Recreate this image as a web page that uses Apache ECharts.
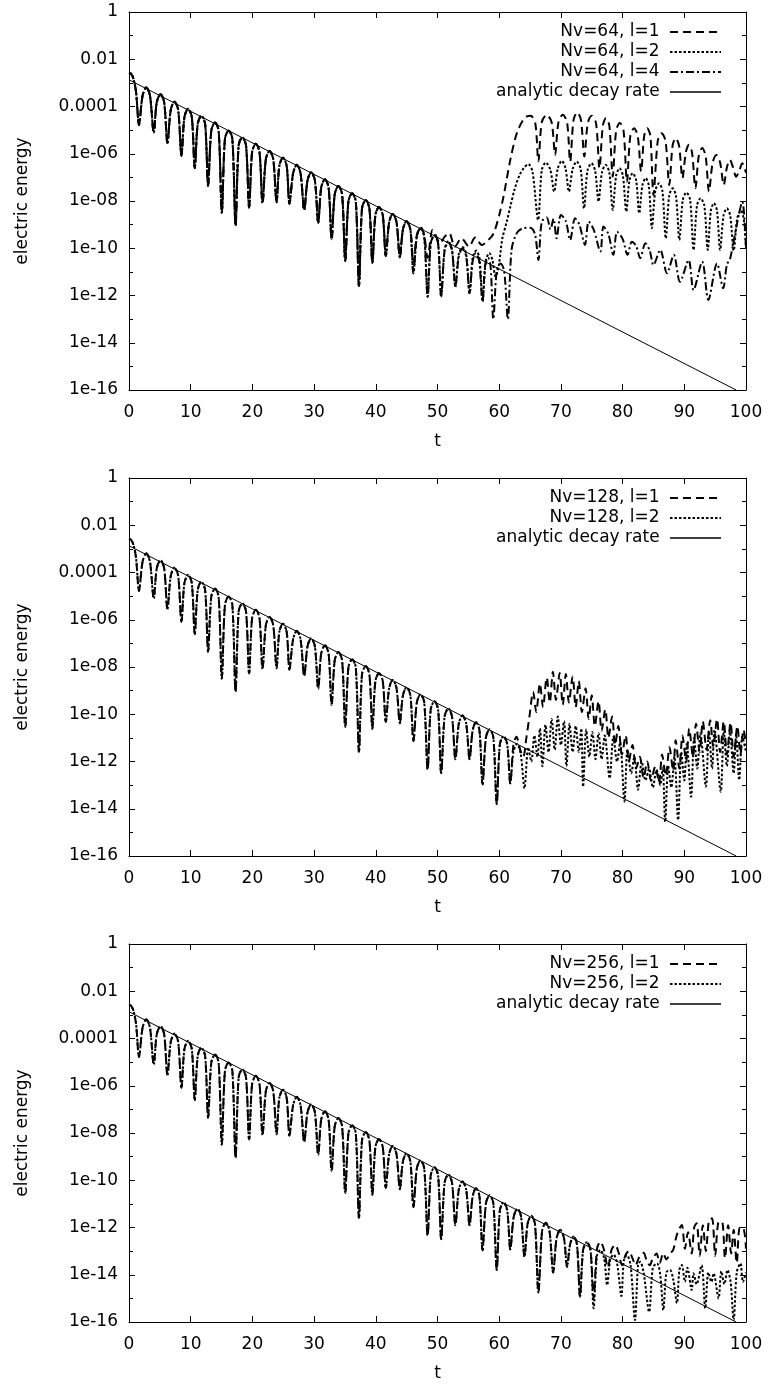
<!DOCTYPE html>
<html>
<head>
<meta charset="utf-8">
<script src="https://cdn.jsdelivr.net/npm/echarts@6/dist/echarts.min.js"></script>
<style>
  html, body { margin: 0; padding: 0; background: #fff; }
  #chart { width: 768px; height: 1384px; }
</style>
</head>
<body>
<div id="chart"></div>
<script>
// [t, log10(electric energy)]

// t = 0 .. 43.9, identical in every run
const early = [
  [0,-2.58],[0.35,-2.62],[0.75,-2.85],[1.15,-3.4],[1.62,-4.78],
  [2.2,-3.54],[2.8,-3.19],[3.4,-3.54],[4.01,-5.1],
  [4.5,-3.82],[5.1,-3.47],[5.7,-3.82],[6.23,-5.55],
  [6.77,-4.14],[7.37,-3.79],[7.97,-4.14],[8.5,-6.09],
  [8.98,-4.45],[9.58,-4.1],[10.18,-4.45],[10.66,-6.61],
  [11.14,-4.74],[11.74,-4.39],[12.34,-4.74],[12.82,-7.36],
  [13.33,-5.03],[13.93,-4.68],[14.53,-5.03],[15.04,-8.49],
  [15.55,-5.37],[16.15,-5.02],[16.75,-5.37],[17.27,-9.05],
  [17.77,-5.65],[18.37,-5.3],[18.97,-5.65],[19.47,-8.28],
  [19.95,-5.93],[20.55,-5.58],[21.15,-5.93],[21.64,-8.09],
  [22.18,-6.23],[22.78,-5.88],[23.38,-6.23],[23.92,-8.05],
  [24.36,-6.52],[24.96,-6.17],[25.56,-6.52],[26.0,-8.12],
  [26.6,-6.82],[27.2,-6.47],[27.8,-6.82],[28.4,-8.38],
  [28.93,-7.13],[29.53,-6.78],[30.13,-7.13],[30.67,-8.92],
  [31.15,-7.43],[31.75,-7.08],[32.35,-7.43],[32.84,-9.62],
  [33.34,-7.72],[33.94,-7.37],[34.54,-7.72],[35.05,-10.54],
  [35.56,-8.02],[36.16,-7.67],[36.76,-8.02],[37.27,-11.6],
  [37.76,-8.31],[38.36,-7.96],[38.96,-8.31],[39.45,-10.61],
  [39.93,-8.6],[40.53,-8.25],[41.13,-8.6],[41.62,-10.33],
  [42.16,-8.9],[42.76,-8.55],[43.36,-8.9],[43.9,-10.38]
];

// t = 44.4 .. 61.8, shared by the Nv=128 and Nv=256 runs
const mid = [
  [44.4,-9.2],[45.0,-8.85],[45.6,-9.2],[46.1,-11.14],
  [46.65,-9.5],[47.25,-9.15],[47.85,-9.5],[48.4,-12.34],
  [48.9,-9.8],[49.5,-9.45],[50.1,-9.8],[50.6,-12.5],
  [51.15,-10.1],[51.75,-9.75],[52.35,-10.1],[52.9,-11.9],
  [53.45,-10.4],[54.05,-10.05],[54.65,-10.4],[55.2,-11.9],
  [55.7,-10.68],[56.25,-10.33],[56.8,-10.68],[57.3,-12.97],
  [57.85,-10.98],[58.45,-10.63],[59.05,-10.98],[59.6,-13.8],
  [60.1,-11.28],[60.7,-10.93],[61.3,-11.28],[61.8,-12.93]
];

const nv64l1 = [
  [44.4,-9.2],[45.0,-8.85],[45.6,-9.2],[46.1,-10.6],
  [46.65,-9.45],[47.25,-9.1],[47.85,-9.45],[48.4,-10.4],
  [49.2,-9.22],[49.8,-9.5],[50.4,-9.79],[51.2,-9.5],[51.9,-9.36],[52.8,-9.93],
  [53.9,-9.58],[55.1,-9.93],[56.1,-9.55],[57.2,-9.86],[58.2,-9.65],[58.8,-9.5],
  [59.3,-9.23],[60.0,-8.6],[60.7,-7.81],[61.8,-6.26],[62.85,-5.13],[63.9,-4.56],
  [64.5,-4.42],[65.1,-4.39],[65.85,-4.71],[66.35,-6.33],
  [66.9,-4.67],[67.7,-4.35],[68.5,-4.67],[69.06,-6.05],
  [69.6,-4.67],[70.3,-4.35],[71.0,-4.67],[71.5,-6.33],
  [72.05,-4.57],[72.65,-4.25],[73.25,-4.57],[73.8,-6.12],
  [74.35,-4.71],[75.0,-4.39],[75.7,-4.71],[76.25,-6.61],
  [76.8,-4.81],[77.3,-4.49],[77.85,-4.81],[78.4,-6.97],
  [78.95,-5.02],[79.55,-4.7],[80.15,-5.02],[80.7,-7.18],
  [81.25,-5.24],[81.85,-4.92],[82.45,-5.24],[83.0,-6.75],
  [83.5,-5.24],[84.0,-4.92],[84.5,-5.24],[85.0,-7.74],
  [85.7,-5.45],[86.3,-5.13],[86.95,-5.45],[87.56,-7.32],
  [88.1,-5.66],[88.6,-5.34],[89.15,-5.66],[89.7,-7.03],
  [90.25,-5.94],[90.75,-5.62],[91.25,-5.94],[91.8,-7.46],
  [92.35,-6.08],[92.9,-5.76],[93.45,-6.08],[94.0,-7.6],
  [94.6,-6.37],[95.2,-6.05],[95.8,-6.37],[96.4,-7.32],
  [96.9,-6.58],[97.4,-6.26],[97.9,-6.58],[98.4,-6.97],
  [98.9,-6.72],[99.4,-6.4],[100,-6.8]
];

const nv64l2 = [
  [44.4,-9.2],[45.0,-8.85],[45.6,-9.2],[46.1,-11.06],
  [46.65,-9.5],[47.25,-9.15],[47.85,-9.5],[48.4,-12.05],
  [48.9,-9.8],[49.5,-9.45],[50.1,-9.8],[50.6,-12.05],
  [51.15,-10.05],[51.75,-9.7],[52.35,-10.05],[52.9,-11.63],
  [53.45,-10.25],[54.05,-9.95],[54.65,-10.25],[55.2,-11.91],
  [55.7,-10.4],[56.25,-10.1],[56.8,-10.4],[57.3,-12.26],
  [57.85,-10.5],[58.4,-10.2],[58.9,-10.5],[59.4,-11.2],
  [59.9,-10.78],[60.5,-9.6],[61.2,-8.9],[61.8,-8.24],[62.5,-7.5],[63.3,-6.9],
  [64.0,-6.6],[64.73,-6.44],[65.4,-6.76],[66.3,-8.8],
  [66.9,-6.69],[67.55,-6.37],[68.3,-6.69],[68.9,-7.6],
  [69.5,-6.62],[70.15,-6.3],[70.75,-6.62],[71.3,-7.6],
  [71.9,-6.65],[72.55,-6.33],[73.2,-6.65],[73.75,-8.31],
  [74.3,-6.72],[74.95,-6.4],[75.55,-6.72],[76.1,-8.02],
  [76.65,-6.79],[77.25,-6.47],[77.85,-6.79],[78.4,-8.38],
  [78.95,-6.93],[79.5,-6.61],[80.05,-6.93],[80.6,-8.45],
  [81.1,-7.14],[81.65,-6.82],[82.2,-7.14],[82.7,-8.52],
  [83.2,-7.35],[83.75,-7.03],[84.25,-7.35],[84.75,-9.15],
  [85.3,-7.57],[85.9,-7.25],[86.45,-7.57],[87.0,-9.58],
  [87.55,-7.78],[88.1,-7.46],[88.65,-7.78],[89.2,-9.65],
  [89.75,-7.96],[90.35,-7.64],[90.95,-7.96],[91.5,-10.07],
  [92.05,-8.2],[92.65,-7.88],[93.25,-8.2],[93.8,-10.07],
  [94.3,-8.41],[94.8,-8.09],[95.3,-8.41],[95.8,-10.07],
  [96.35,-8.63],[96.9,-8.31],[97.45,-8.63],[98.0,-10.1],
  [98.6,-8.7],[99.2,-8.4],[99.7,-8.9],[100,-10.0]
];

const nv64l4 = [
  [44.4,-9.2],[45.0,-8.85],[45.6,-9.2],[46.1,-11.06],
  [46.65,-9.5],[47.25,-9.15],[47.85,-9.5],[48.4,-12.05],
  [48.9,-9.8],[49.5,-9.45],[50.1,-9.8],[50.6,-12.05],
  [51.15,-10.1],[51.75,-9.75],[52.35,-10.1],[52.9,-11.63],
  [53.45,-10.35],[54.05,-10.0],[54.65,-10.35],[55.2,-11.91],
  [55.7,-10.55],[56.2,-10.2],[56.75,-10.55],[57.3,-12.26],
  [57.7,-10.75],[58.2,-10.4],[58.6,-10.75],[59.05,-13.0],
  [59.6,-10.95],[60.2,-10.65],[60.8,-10.95],[61.4,-13.0],
  [62.0,-10.07],[62.85,-9.36],[63.9,-9.15],[65.0,-9.13],[65.8,-9.4],[66.35,-10.5],
  [66.9,-8.87],[67.7,-8.7],[68.3,-9.2],[68.8,-8.75],[69.3,-9.58],[70.0,-8.59],
  [70.8,-8.85],[71.5,-9.65],[72.3,-8.73],[73.0,-9.0],[73.9,-9.86],[74.5,-8.87],
  [75.3,-9.2],[76.4,-10.14],[76.9,-9.08],[77.7,-9.4],[78.5,-10.28],[79.1,-9.3],
  [80.0,-9.6],[80.8,-10.28],[81.5,-9.72],[82.2,-9.9],[82.85,-10.42],[83.7,-9.79],
  [84.4,-10.1],[85.0,-10.71],[86.1,-10.07],[87.2,-11.06],[88.3,-10.28],[89.3,-11.42],
  [90.7,-10.5],[91.5,-11.77],[92.9,-10.57],[93.9,-12.19],[95.3,-10.64],[96.3,-11.69],
  [96.9,-10.7],[97.45,-10.42],[98.5,-9.01],[99.4,-8.03],[100,-10.0]
];

const nv128l1 = [
  [62.3,-11.3],[62.8,-10.95],[63.4,-11.5],[63.9,-11.8],[64.4,-11.0],[64.9,-10.1],
  [65.5,-9.05],[66.0,-9.9],[66.6,-8.7],[67.1,-9.7],[67.7,-8.45],[68.2,-9.5],
  [68.7,-8.2],[69.2,-9.4],[69.8,-8.25],[70.3,-9.6],[70.8,-8.3],[71.3,-9.5],
  [71.9,-8.4],[72.4,-9.7],[72.9,-8.6],[73.4,-9.9],[74.0,-8.9],[74.5,-10.2],
  [75.0,-9.2],[75.5,-10.5],[76.1,-9.45],[76.6,-10.7],[77.2,-9.8],[77.7,-11.0],
  [78.3,-10.1],[78.8,-11.3],[79.3,-10.5],[79.9,-11.7],[80.5,-10.9],[81.0,-12.0],
  [81.6,-11.3],[82.2,-12.3],[82.8,-11.8],[83.4,-12.7],[84.0,-12.0],[84.6,-12.8],
  [85.3,-12.2],[85.9,-12.9],[86.4,-11.7],[87.0,-12.6],[87.6,-11.4],[88.2,-12.4],
  [88.6,-11.1],[89.2,-12.3],[89.7,-10.9],[90.3,-12.0],[90.8,-10.6],[91.4,-11.8],
  [91.9,-10.4],[92.5,-11.6],[93.0,-10.3],[93.6,-11.5],[94.2,-10.25],[94.7,-11.4],
  [95.3,-10.2],[95.8,-11.6],[96.4,-10.3],[96.9,-11.7],[97.5,-10.35],[98.0,-11.8],
  [98.6,-10.5],[99.1,-11.7],[99.6,-10.65],[100,-11.3]
];

const nv128l2 = [
  [62.3,-11.6],[62.9,-11.25],[63.5,-11.7],[64.1,-13.14],[64.7,-11.4],[65.2,-12.0],
  [65.7,-10.9],[66.2,-11.8],[66.6,-10.6],[67.0,-12.2],[67.5,-10.45],[68.0,-11.6],
  [68.5,-10.2],[69.0,-11.5],[69.5,-10.1],[70.0,-11.3],[70.5,-10.3],[70.9,-12.2],
  [71.4,-10.4],[71.9,-11.6],[72.4,-10.5],[72.9,-11.6],[73.3,-10.6],[73.6,-13.07],
  [74.1,-10.65],[74.6,-11.8],[75.1,-10.75],[75.6,-11.9],[76.1,-10.8],[76.6,-11.9],
  [77.1,-10.9],[77.9,-12.71],[78.5,-10.95],[79.1,-12.0],[79.6,-11.2],[80.3,-13.7],
  [80.8,-11.5],[81.4,-12.5],[81.9,-11.8],[82.5,-13.2],[83.1,-12.0],[83.7,-12.8],
  [84.3,-12.3],[84.9,-13.1],[85.5,-12.35],[86.1,-13.0],[86.5,-12.25],[86.9,-14.55],
  [87.4,-12.2],[87.9,-13.1],[88.4,-11.8],[89.0,-14.48],[89.5,-11.6],[90.0,-12.8],
  [90.4,-11.25],[91.1,-13.49],[91.6,-11.0],[92.1,-12.3],[92.6,-10.8],[93.5,-13.07],
  [94.0,-10.7],[94.5,-12.3],[94.9,-10.66],[95.9,-13.28],[96.4,-10.7],[96.9,-12.2],
  [97.4,-10.75],[98.0,-12.5],[98.4,-10.85],[98.9,-12.78],[99.4,-10.95],[100,-11.6]
];

const nv256l1 = [
  [62.35,-11.55],[62.95,-11.2],[63.55,-11.55],[64.1,-13.24],
  [64.6,-11.85],[65.2,-11.5],[65.8,-11.85],[66.35,-14.75],
  [66.95,-12.15],[67.55,-11.8],[68.15,-12.15],[68.75,-13.9],
  [69.3,-12.45],[69.9,-12.1],[70.5,-12.45],[71.0,-13.66],
  [71.5,-12.7],[72.05,-12.38],[72.6,-12.7],[73.1,-14.93],
  [73.6,-12.95],[74.2,-12.62],[74.8,-12.95],[75.3,-15.0],
  [75.85,-12.9],[76.4,-12.6],[77.0,-12.95],[77.6,-13.7],[78.2,-12.95],[78.8,-12.74],
  [79.4,-13.1],[79.9,-13.6],[80.5,-13.15],[81.0,-13.0],[81.6,-13.3],[82.1,-13.6],
  [82.7,-13.25],[83.4,-13.07],[83.9,-13.4],[84.4,-13.6],[84.9,-13.3],[85.5,-13.1],
  [86.0,-13.5],[86.6,-13.09],[87.1,-13.35],[87.7,-13.1],[88.2,-12.95],[88.7,-12.4],
  [89.1,-12.1],[89.6,-11.89],[90.1,-12.9],[90.6,-12.2],[91.2,-13.1],[91.6,-12.0],
  [92.0,-11.82],[92.5,-13.2],[93.0,-11.9],[93.5,-13.0],[94.0,-11.7],[94.5,-11.61],
  [95.0,-13.2],[95.5,-11.8],[96.1,-11.75],[96.6,-13.3],[97.1,-11.9],[97.6,-13.1],
  [98.0,-12.1],[98.5,-13.5],[99.0,-12.0],[99.6,-12.03],[100,-12.9]
];

const nv256l2 = [
  [62.35,-11.55],[62.95,-11.2],[63.55,-11.55],[64.1,-13.24],
  [64.6,-11.85],[65.2,-11.5],[65.8,-11.85],[66.35,-14.75],
  [66.95,-12.15],[67.55,-11.8],[68.15,-12.15],[68.75,-13.9],
  [69.3,-12.45],[69.9,-12.1],[70.5,-12.45],[71.0,-13.66],
  [71.5,-12.7],[72.05,-12.38],[72.6,-12.7],[73.1,-14.93],
  [73.6,-12.95],[74.2,-12.62],[74.8,-12.95],[75.3,-15.42],
  [75.85,-13.2],[76.4,-12.95],[77.0,-13.3],[77.5,-14.44],[78.0,-13.35],[78.55,-13.15],
  [79.1,-13.5],[79.8,-14.9],[80.2,-13.4],[80.7,-13.17],[81.3,-13.6],[82.0,-15.92],
  [82.5,-13.6],[82.85,-13.45],[83.4,-13.9],[84.3,-15.57],[84.9,-13.7],[85.6,-13.52],
  [86.1,-14.0],[86.6,-15.5],[87.1,-13.9],[87.7,-13.8],[88.2,-14.2],[88.8,-15.2],
  [89.2,-13.8],[89.6,-13.59],[90.1,-14.3],[90.5,-13.7],[91.2,-14.65],[91.5,-13.94],
  [92.0,-14.4],[92.8,-13.6],[93.4,-15.42],[93.9,-13.9],[94.4,-14.3],[94.75,-13.94],
  [95.55,-15.0],[96.0,-13.85],[96.5,-14.4],[97.0,-13.8],[97.5,-14.3],[98.0,-15.92],
  [98.5,-13.9],[99.1,-13.52],[99.5,-14.3],[100,-13.9]
];

// analytic decay rate, straight line on the log axis
const decay = [[0,-2.87],[98.4,-16]];

const yTickLabels = ['1e-16','1e-14','1e-12','1e-10','1e-08','1e-06','0.0001','0.01','1'];

const FONT = 'DejaVu Sans';
const FS = 17;

const styleOf = {
  l1: { width: 2, type: [8, 5] },
  l2: { width: 2, type: [2.5, 2] },
  l4: { width: 2, type: [8, 3, 2, 3] },
  exact: { width: 1, type: 'solid' }
};

const panels = [
  { top: 12, series: [
    ['Nv=64, l=1', early.concat(nv64l1), 'l1'],
    ['Nv=64, l=2', early.concat(nv64l2), 'l2'],
    ['Nv=64, l=4', early.concat(nv64l4), 'l4'],
    ['analytic decay rate', decay, 'exact']
  ]},
  { top: 478, series: [
    ['Nv=128, l=1', early.concat(mid, nv128l1), 'l1'],
    ['Nv=128, l=2', early.concat(mid, nv128l2), 'l2'],
    ['analytic decay rate', decay, 'exact']
  ]},
  { top: 944, series: [
    ['Nv=256, l=1', early.concat(mid, nv256l1), 'l1'],
    ['Nv=256, l=2', early.concat(mid, nv256l2), 'l2'],
    ['analytic decay rate', decay, 'exact']
  ]}
];

const textStyle = { fontFamily: FONT, fontSize: FS, color: '#000' };
const black = { color: '#000', width: 1 };

let grid = [], xAxis = [], yAxis = [], legend = [], series = [];

panels.forEach((p, i) => {
  grid.push({ left: 129, width: 617, top: p.top, height: 378, outerBoundsMode: 'none', containLabel: false });

  // bottom and top x axes
  xAxis.push({
    gridIndex: i, type: 'value', min: 0, max: 100, interval: 10, position: 'bottom',
    axisLine: { onZero: false, lineStyle: black },
    axisTick: { inside: true, length: 6, lineStyle: black },
    axisLabel: Object.assign({ margin: 14 }, textStyle),
    splitLine: { show: false },
    name: 't', nameLocation: 'middle', nameGap: 43, nameTextStyle: textStyle
  });
  xAxis.push({
    gridIndex: i, type: 'value', min: 0, max: 100, interval: 10, position: 'top',
    axisLine: { onZero: false, lineStyle: black },
    axisTick: { inside: true, length: 6, lineStyle: black },
    axisLabel: { show: false },
    splitLine: { show: false }
  });

  // log axis the data hangs on
  yAxis.push({ gridIndex: i, type: 'log', logBase: 10, min: 1e-16, max: 1, show: false });
  // left and right tick frames (decades)
  [['left', true], ['right', false]].forEach(([pos, lab]) => {
    yAxis.push({
      gridIndex: i, type: 'value', min: -16, max: 0, interval: 2, position: pos,
      axisLine: { show: true, onZero: false, lineStyle: black },
      axisTick: { show: true, inside: true, length: 6, lineStyle: black },
      minorTick: { show: true, splitNumber: 2, length: 4, lineStyle: black },
      axisLabel: Object.assign({ show: lab, margin: 11, formatter: v => yTickLabels[Math.round((v + 16) / 2)] }, textStyle),
      splitLine: { show: false },
      name: lab ? 'electric energy' : '', nameLocation: 'middle', nameGap: 98, nameTextStyle: textStyle
    });
  });

  p.series.forEach(([name, pts, kind]) => {
    series.push({
      name: name, type: 'line', xAxisIndex: 2 * i, yAxisIndex: 3 * i,
      data: pts.map(([t, e]) => [t, Math.pow(10, e)]),
      symbol: 'none', smooth: kind === 'exact' ? false : 0.3,
      lineStyle: { color: '#000', width: styleOf[kind].width, type: styleOf[kind].type },
      silent: true, z: kind === 'exact' ? 3 : 2
    });
  });

  legend.push({
    top: p.top + 10, right: 46, orient: 'vertical', align: 'right',
    padding: 0, itemGap: 0, itemWidth: 51, itemHeight: 12,
    selectedMode: false,
    data: p.series.map(([name, , kind]) => ({
      name: name,
      itemStyle: { opacity: 0 },
      lineStyle: { color: '#000', width: kind === 'exact' ? 1.3 : styleOf[kind].width, type: styleOf[kind].type }
    })),
    formatter: n => n + ' ',
    textStyle: Object.assign({ lineHeight: 20 }, textStyle)
  });
});

const myChart = echarts.init(document.getElementById('chart'), null, { renderer: 'canvas' });
myChart.setOption({
  animation: false,
  backgroundColor: '#fff',
  grid: grid,
  xAxis: xAxis,
  yAxis: yAxis,
  legend: legend,
  series: series
});
</script>
</body>
</html>
